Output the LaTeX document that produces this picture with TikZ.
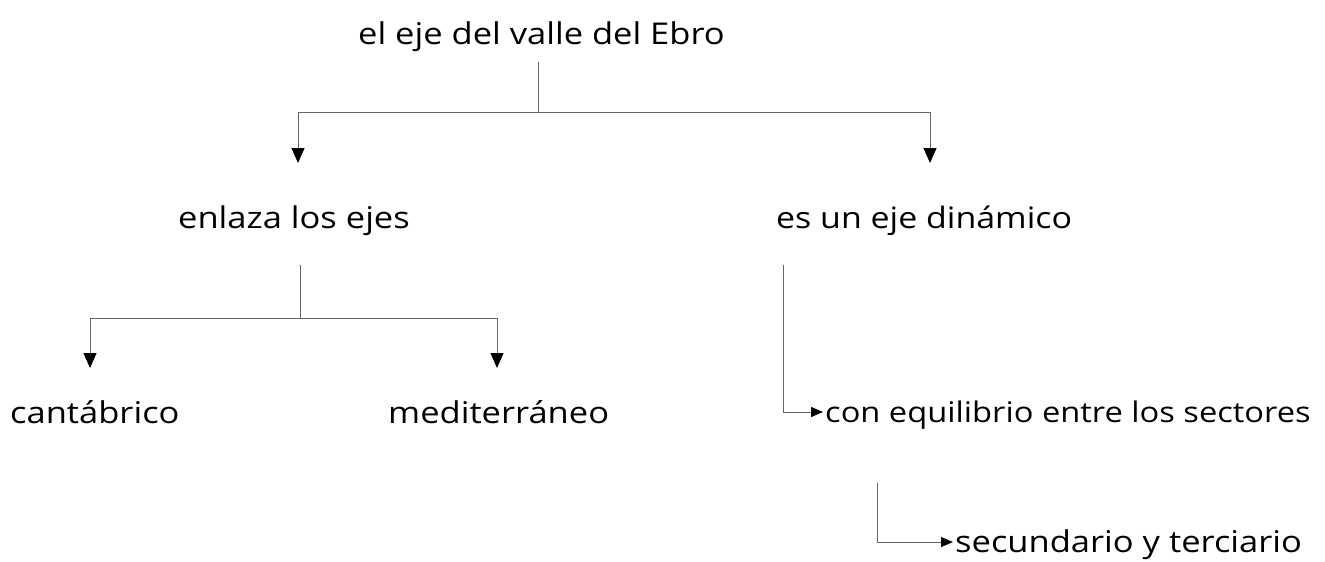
\documentclass[tikz,border=0pt]{standalone}
\usepackage{fontspec}
\setmainfont[FakeStretch=1.15]{Open Sans}
\usetikzlibrary{arrows.meta}
\begin{document}
\begin{tikzpicture}[x=1pt,y=-1pt,
  lbl/.style={anchor=base west,inner sep=0pt,font=\fontsize{30}{36}\selectfont},
  conn/.style={draw=black!60,line width=1pt},
  arr/.style={conn,-{Triangle[width=13pt,length=15pt,black]}},
  sarr/.style={conn,-{Triangle[width=10pt,length=12pt,black]}}]
\useasboundingbox (0,0) rectangle (1325,562);
% texts
\node[lbl] (t) at (358,44) {el eje del valle del Ebro};
\node[lbl] (a) at (178,228) {enlaza los ejes};
\node[lbl] (b) at (776,228) {\fontsize{29.5}{36}\selectfont es un eje dinámico};
\node[lbl] (c) at (10,423) {cantábrico};
\node[lbl] (d) at (388,423) {mediterráneo};
\node[lbl] (e) at (825,422) {\fontsize{28.4}{36}\selectfont con equilibrio entre los sectores};
\node[lbl] (f) at (955,552) {secundario y terciario};
% junction points
\coordinate (t0) at (538,62);
\coordinate (tj) at (538,112);
\coordinate (aT) at (298,163);
\coordinate (bT) at (930,163);
\coordinate (a0) at (300,265);
\coordinate (aj) at (300,318);
\coordinate (cT) at (90,368);
\coordinate (dT) at (497,368);
\coordinate (b0) at (783,265);
\coordinate (bj) at (783,412);
\coordinate (eT) at (823,412);
\coordinate (e0) at (877,483);
\coordinate (ej) at (877,542);
\coordinate (fT) at (953,542);
% connectors
\draw[conn] (t0) -- (tj);
\draw[arr] (tj) -| (aT);
\draw[arr] (tj) -| (bT);
\draw[conn] (a0) -- (aj);
\draw[arr] (aj) -| (cT);
\draw[arr] (aj) -| (dT);
\draw[sarr] (b0) |- (eT);
\draw[sarr] (e0) |- (fT);
\end{tikzpicture}
\end{document}
